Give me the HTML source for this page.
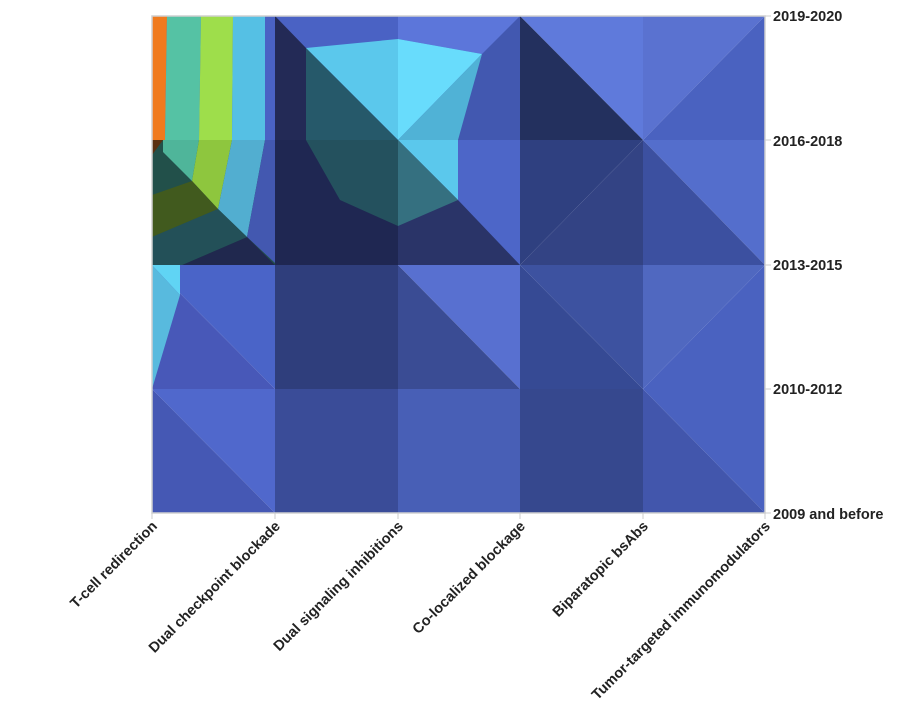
<!DOCTYPE html>
<html><head><meta charset="utf-8"><style>body{margin:0;background:#fff}</style></head><body>
<svg width="908" height="718" xmlns="http://www.w3.org/2000/svg" font-family="Liberation Sans, sans-serif" font-size="14.5" font-weight="bold" fill="#222">
<g stroke="none">
<rect x="152" y="16" width="123" height="124" fill="#4a62c4"/>
<polygon points="152,16 167,16 165,140 152,140" fill="#f07a1e"/>
<polygon points="167,16 201,16 199,140 165,140" fill="#55c2a4"/>
<polygon points="201,16 233,16 232,140 199,140" fill="#9ede4b"/>
<polygon points="233,16 265,16 265,140 232,140" fill="#55c0e4"/>
<rect x="152" y="140" width="123" height="125" fill="#22504a"/>
<polygon points="152,140 163,140 152,155" fill="#5a3010"/>
<polygon points="163,140 199,140 192,181 163,152" fill="#4fb59a"/>
<polygon points="199,140 232,140 218,209 192,181" fill="#8ec63e"/>
<polygon points="152,195 192,181 218,209 152,237" fill="#415a1e"/>
<polygon points="232,140 265,140 247,237 218,209" fill="#52aed0"/>
<polygon points="265,140 275,140 275,263 247,237" fill="#4358b0"/>
<polygon points="247,237 275,265 182,265" fill="#20284e"/>
<polygon points="152,237 218,209 247,237 182,265 152,265" fill="#235058"/>
<rect x="275" y="16" width="123" height="124" fill="#4a62c4"/>
<polygon points="275,16 306,48 306,140 275,140" fill="#232a56"/>
<polygon points="306,48 398,39 398,140" fill="#5bc8ec"/>
<polygon points="306,48 398,140 306,140" fill="#26596a"/>
<rect x="275" y="140" width="123" height="125" fill="#1f2752"/>
<polygon points="306,140 398,140 398,226 340,200" fill="#24515e"/>
<rect x="398" y="16" width="122" height="124" fill="#4258b0"/>
<polygon points="398,16 520,16 482,54 398,39" fill="#5c76da"/>
<polygon points="398,39 482,54 398,140" fill="#68dcfc"/>
<polygon points="482,54 458,140 398,140" fill="#50b2d6"/>
<rect x="398" y="140" width="122" height="125" fill="#2a3468"/>
<polygon points="398,140 458,140 458,200" fill="#5bc8ec"/>
<polygon points="398,140 458,200 398,226" fill="#357080"/>
<polygon points="458,140 520,140 520,265 458,200" fill="#4d66c8"/>
<polygon points="520,16 643,16 643,140" fill="#5f7adb"/>
<polygon points="520,16 643,140 520,140" fill="#23305e"/>
<polygon points="643,16 765,16 643,140" fill="#5a72d0"/>
<polygon points="765,16 765,140 643,140" fill="#4a62c0"/>
<polygon points="520,140 643,140 520,265" fill="#2f4080"/>
<polygon points="643,140 643,265 520,265" fill="#334384"/>
<polygon points="643,140 765,140 765,265" fill="#546ecc"/>
<polygon points="643,140 765,265 643,265" fill="#3c50a0"/>
<polygon points="520,265 643,265 643,389" fill="#3d52a0"/>
<polygon points="520,265 643,389 520,389" fill="#364a94"/>
<polygon points="643,265 765,265 643,389" fill="#5068c0"/>
<polygon points="765,265 765,389 643,389" fill="#4a62c0"/>
<rect x="520" y="389" width="123" height="124" fill="#36488e"/>
<polygon points="643,389 765,389 765,513" fill="#4a62c0"/>
<polygon points="643,389 765,513 643,513" fill="#4256ac"/>
<polygon points="152,265 275,265 275,389" fill="#4a64c8"/>
<polygon points="152,265 275,389 152,389" fill="#4858b8"/>
<polygon points="152,265 180,265 180,295" fill="#60d4f4"/>
<polygon points="152,265 180,295 152,389" fill="#58bade"/>
<rect x="275" y="265" width="123" height="124" fill="#2f3e7c"/>
<polygon points="398,265 520,265 520,389" fill="#5870d0"/>
<polygon points="398,265 520,389 398,389" fill="#3a4c94"/>
<polygon points="152,389 275,389 275,513" fill="#5068cc"/>
<polygon points="152,389 275,513 152,513" fill="#4558b4"/>
<rect x="275" y="389" width="123" height="124" fill="#3a4c98"/>
<rect x="398" y="389" width="122" height="124" fill="#485fb6"/>
</g>
<rect x="152" y="16" width="613" height="497" fill="none" stroke="#d0d0d0" stroke-width="1.5"/>
<g stroke="#ccc" stroke-width="1">
<line x1="152" y1="513" x2="152" y2="519"/><line x1="275" y1="513" x2="275" y2="519"/><line x1="398" y1="513" x2="398" y2="519"/><line x1="520" y1="513" x2="520" y2="519"/><line x1="643" y1="513" x2="643" y2="519"/><line x1="765" y1="513" x2="765" y2="519"/>
<line x1="765" y1="16" x2="771" y2="16"/><line x1="765" y1="140" x2="771" y2="140"/><line x1="765" y1="265" x2="771" y2="265"/><line x1="765" y1="389" x2="771" y2="389"/><line x1="765" y1="513" x2="771" y2="513"/>
</g>
<g>
<text x="773" y="21">2019-2020</text>
<text x="773" y="146">2016-2018</text>
<text x="773" y="270">2013-2015</text>
<text x="773" y="394">2010-2012</text>
<text x="773" y="519">2009 and before</text>
</g>
<g text-anchor="end">
<text transform="translate(158,527) rotate(-45)">T-cell redirection</text>
<text transform="translate(281,527) rotate(-45)">Dual checkpoint blockade</text>
<text transform="translate(404,527) rotate(-45)">Dual signaling inhibitions</text>
<text transform="translate(526,527) rotate(-45)">Co-localized blockage</text>
<text transform="translate(649,527) rotate(-45)">Biparatopic bsAbs</text>
<text transform="translate(771,527) rotate(-45)">Tumor-targeted immunomodulators</text>
</g>
</svg>
</body></html>
